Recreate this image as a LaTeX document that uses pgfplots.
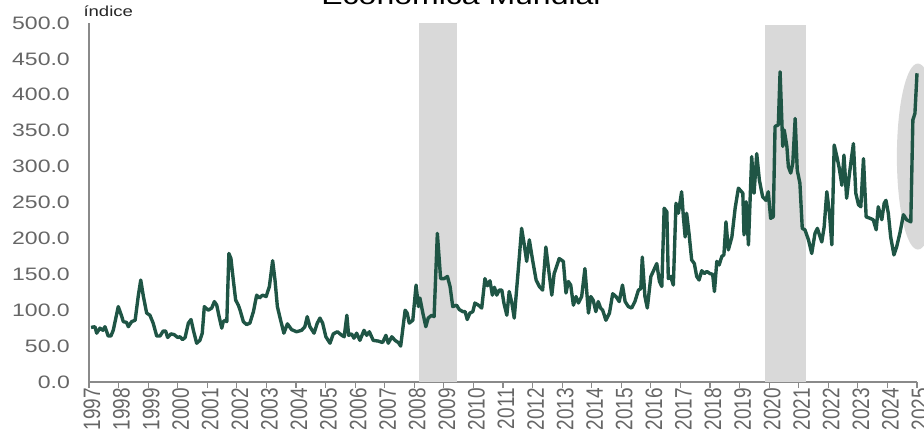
\documentclass[border=0pt]{standalone}
\usepackage{fontspec}
\usepackage{graphicx}
\usepackage{pgfplots}
\pgfplotsset{compat=1.18}
\setmainfont{Liberation Sans}
\newfontfamily\widefont[FakeStretch=1.28]{Liberation Sans}

\definecolor{serie}{HTML}{1F5545}
\definecolor{faixa}{HTML}{D9D9D9}
\definecolor{eixo}{HTML}{8A8A8A}
\definecolor{rotulo}{HTML}{666666}

\begin{document}
\begin{tikzpicture}
\path[use as bounding box] (-89bp,-53bp) rectangle (835bp,382bp);
\begin{axis}[
    at={(0,0)}, anchor=south west,
    scale only axis, width=828bp, height=359bp,
    xmin=1997, xmax=2025, ymin=0, ymax=500,
    clip=false,
    axis lines*=left,
    axis line style={eixo, line width=1.3pt},
    xtick={1997,1998,...,2025},
    ytick={0,50,...,500},
    tick align=outside,
    x tick style={eixo, line width=1.1pt},
    major tick length=6bp,
    ytick style={draw=none},
    /pgf/number format/assume math mode=true,
    xticklabel={\scalebox{1}[1.25]{\pgfmathprintnumber[fixed,precision=0,1000 sep={}]{\tick}}},
    x tick label style={rotate=90, anchor=east, inner sep=0pt, yshift=-3bp,
        font=\fontsize{19bp}{21bp}\selectfont, text=rotulo},
    yticklabel={\pgfmathprintnumber[fixed,fixed zerofill,precision=1,1000 sep={}]{\tick}},
    y tick label style={anchor=east, inner sep=0pt, xshift=-13bp,
        font=\widefont\fontsize{18bp}{20bp}\selectfont, text=rotulo},
]
% faixas cinzentas
\addplot[draw=none, fill=faixa] coordinates {(2008.15,0) (2008.15,500) (2009.44,500) (2009.44,0)} -- cycle;
\addplot[draw=none, fill=faixa] coordinates {(2019.87,0) (2019.87,497) (2021.24,497) (2021.24,0)} -- cycle;
\fill[faixa] (axis cs:2025.03,314) ellipse [x radius=21bp, y radius=93bp];

\addplot[serie, line width=3.4pt, line join=round, mark=none] coordinates {
(1997.07,76) (1997.20,77) (1997.26,68) (1997.37,75) (1997.47,72) (1997.54,77)
(1997.65,64) (1997.74,64) (1997.82,72) (1997.99,105) (1998.11,91) (1998.16,84)
(1998.27,83) (1998.33,77) (1998.44,84) (1998.56,86) (1998.67,121) (1998.75,142)
(1998.84,119) (1998.95,96) (1999.06,93) (1999.17,82) (1999.29,64) (1999.40,64)
(1999.51,71) (1999.59,71) (1999.66,62) (1999.77,67) (1999.88,66) (2000.00,62)
(2000.08,63) (2000.16,59) (2000.25,62) (2000.36,82) (2000.45,87) (2000.53,72)
(2000.64,54) (2000.75,58) (2000.83,68) (2000.90,105) (2001.03,100) (2001.15,103)
(2001.24,112) (2001.32,107) (2001.40,91) (2001.49,75) (2001.54,84) (2001.60,86)
(2001.66,84) (2001.73,179) (2001.80,172) (2001.88,142) (2001.96,114) (2002.05,107)
(2002.11,100) (2002.22,84) (2002.33,80) (2002.44,82) (2002.56,98) (2002.67,121)
(2002.76,117) (2002.87,121) (2002.99,119) (2003.10,133) (2003.21,169) (2003.29,142)
(2003.37,105) (2003.48,86) (2003.59,68) (2003.71,81) (2003.85,73) (2004.02,70)
(2004.19,72) (2004.30,77) (2004.38,91) (2004.47,77) (2004.61,68) (2004.72,82)
(2004.81,89) (2004.90,82) (2005.01,63) (2005.15,54) (2005.26,67) (2005.40,70)
(2005.55,65) (2005.63,63) (2005.72,93) (2005.78,65) (2005.88,67) (2005.96,61)
(2006.05,68) (2006.16,58) (2006.30,72) (2006.39,65) (2006.48,70) (2006.61,58)
(2006.78,57) (2006.93,55) (2007.04,65) (2007.12,54) (2007.24,63) (2007.35,58)
(2007.46,55) (2007.54,50) (2007.69,100) (2007.76,96) (2007.83,82) (2007.95,86)
(2008.06,135) (2008.14,105) (2008.19,117) (2008.29,96) (2008.39,77) (2008.47,89)
(2008.59,93) (2008.67,91) (2008.78,207) (2008.89,144) (2009.01,144) (2009.12,147)
(2009.21,133) (2009.30,105) (2009.43,107) (2009.52,101) (2009.64,98) (2009.72,98)
(2009.79,87) (2009.88,96) (2009.98,98) (2010.05,110) (2010.17,107) (2010.28,103)
(2010.39,144) (2010.47,134) (2010.56,141) (2010.64,121) (2010.71,132) (2010.79,121)
(2010.87,128) (2010.96,128) (2011.03,110) (2011.13,93) (2011.21,126) (2011.30,110)
(2011.38,89) (2011.52,158) (2011.63,214) (2011.72,191) (2011.80,168) (2011.89,198)
(2012.00,170) (2012.12,142) (2012.23,133) (2012.34,128) (2012.45,188) (2012.53,161)
(2012.65,121) (2012.73,151) (2012.79,158) (2012.90,172) (2013.04,168) (2013.13,124)
(2013.21,140) (2013.29,135) (2013.38,107) (2013.47,119) (2013.55,110) (2013.66,119)
(2013.77,158) (2013.89,96) (2013.97,119) (2014.05,114) (2014.14,98) (2014.22,112)
(2014.30,103) (2014.37,100) (2014.48,86) (2014.60,96) (2014.71,123) (2014.82,119)
(2014.93,112) (2015.04,135) (2015.13,112) (2015.24,105) (2015.35,103) (2015.46,112)
(2015.58,128) (2015.66,130) (2015.71,174) (2015.80,119) (2015.88,103) (2016.00,147)
(2016.08,154) (2016.20,165) (2016.29,140) (2016.37,133) (2016.45,242) (2016.54,237)
(2016.59,144) (2016.67,147) (2016.76,135) (2016.85,249) (2016.93,235) (2017.04,265)
(2017.10,230) (2017.16,202) (2017.21,235) (2017.29,207) (2017.38,170) (2017.47,165)
(2017.55,147) (2017.63,142) (2017.72,155) (2017.81,151) (2017.89,154) (2018.00,151)
(2018.09,150) (2018.15,126) (2018.23,168) (2018.31,163) (2018.40,175) (2018.47,177)
(2018.54,223) (2018.62,184) (2018.74,202) (2018.85,242) (2018.96,270) (2019.11,263)
(2019.15,205) (2019.22,251) (2019.30,191) (2019.41,314) (2019.49,263) (2019.58,318)
(2019.67,281) (2019.78,258) (2019.89,253) (2019.97,265) (2020.05,228) (2020.14,230)
(2020.20,356) (2020.31,358) (2020.37,432) (2020.46,328) (2020.51,351) (2020.60,328)
(2020.65,300) (2020.73,291) (2020.80,305) (2020.88,367) (2020.95,295) (2021.04,277)
(2021.12,214) (2021.21,212) (2021.33,198) (2021.44,179) (2021.55,207) (2021.63,214)
(2021.78,195) (2021.86,216) (2021.95,265) (2022.04,235) (2022.12,191) (2022.20,330)
(2022.29,314) (2022.37,298) (2022.46,274) (2022.53,316) (2022.62,256) (2022.71,288)
(2022.79,314) (2022.85,332) (2022.93,263) (2023.02,247) (2023.10,244) (2023.19,311)
(2023.28,230) (2023.41,228) (2023.52,226) (2023.62,212) (2023.69,244) (2023.81,226)
(2023.89,249) (2023.95,253) (2024.03,235) (2024.11,202) (2024.22,177) (2024.31,188)
(2024.43,209) (2024.54,233) (2024.65,226) (2024.79,223) (2024.86,365) (2024.93,374)
(2025.00,430)
};
\end{axis}
\node[anchor=base west, font=\widefont\fontsize{14.5bp}{16bp}\selectfont, text=black!85] at (-9bp,365bp) {índice};
\node[anchor=base, font=\widefont\fontsize{25bp}{28bp}\selectfont, text=black] at (372bp,377bp) {Econômica Mundial};
\end{tikzpicture}
\end{document}
